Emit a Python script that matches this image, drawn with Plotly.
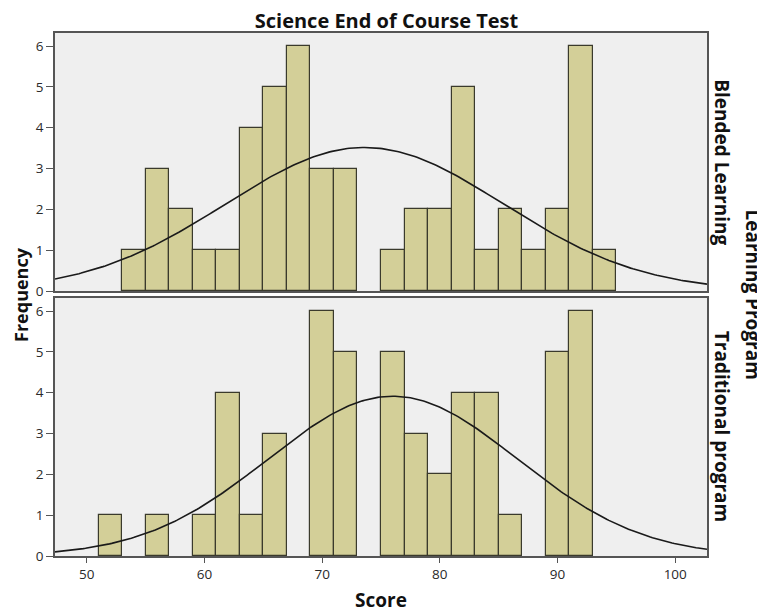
import numpy as np
import plotly.graph_objects as go
from plotly.subplots import make_subplots

# Histogram bins (width 2) and counts
bin_starts = [51, 53, 55, 57, 59, 61, 63, 65, 67, 69, 71, 73, 75, 77, 79, 81, 83, 85, 87, 89, 91, 93]
blended_counts = [0, 1, 3, 2, 1, 1, 4, 5, 6, 3, 3, 0, 1, 2, 2, 5, 1, 2, 1, 2, 6, 1]
traditional_counts = [1, 0, 1, 0, 1, 4, 1, 3, 0, 6, 5, 0, 5, 3, 2, 4, 4, 1, 0, 5, 6, 0]
bin_width = 2

# Normal curve parameters (mean, sd)
blended_fit = (73.6, 11.8)
traditional_fit = (76.0, 10.6)

panel_labels = ["Blended Learning", "Traditional program"]
x_ticks = [50, 60, 70, 80, 90, 100]
y_ticks = [0, 1, 2, 3, 4, 5, 6]

bar_fill = "#D3CF98"
bar_line = "#3A3A2C"
font_family = "Open Sans, DejaVu Sans, sans-serif"

fig = make_subplots(rows=2, cols=1, shared_xaxes=True, vertical_spacing=0.0134)

xs = np.linspace(47.3, 102.7, 300)
for row, (counts, (mu, sd)) in enumerate(
        [(blended_counts, blended_fit), (traditional_counts, traditional_fit)], start=1):
    centers = [b + bin_width / 2 for b in bin_starts]
    xb = [c for c, n in zip(centers, counts) if n > 0]
    yb = [n for n in counts if n > 0]
    fig.add_trace(go.Bar(x=xb, y=yb, width=bin_width,
                         marker=dict(color=bar_fill, line=dict(color=bar_line, width=1.2)),
                         showlegend=False, hoverinfo="x+y"), row=row, col=1)
    n_total = sum(counts)
    curve = n_total * bin_width / (sd * np.sqrt(2 * np.pi)) * np.exp(-0.5 * ((xs - mu) / sd) ** 2)
    fig.add_trace(go.Scatter(x=xs, y=curve, mode="lines",
                             line=dict(color="#1a1a1a", width=1.6),
                             showlegend=False, hoverinfo="skip"), row=row, col=1)

axis_style = dict(showline=True, linecolor="#555555", linewidth=1.5, mirror=True,
                  showgrid=False, zeroline=False, automargin=False)

for row in (1, 2):
    fig.update_xaxes(range=[47.3, 102.7], tickvals=x_ticks, ticks="outside" if row == 2 else "",
                     ticklen=5, tickcolor="#555555", showticklabels=(row == 2),
                     tickfont=dict(size=13.5, color="#2a2a2a", family=font_family),
                     row=row, col=1, **axis_style)
    fig.update_yaxes(range=[0, 6.32], tickvals=y_ticks, ticks="outside", ticklen=7,
                     tickcolor="#555555",
                     tickfont=dict(size=13.5, color="#2a2a2a", family=font_family),
                     row=row, col=1, **axis_style)

fig.update_xaxes(title=dict(text="<b>Score</b>", font=dict(size=19, color="#111111", family=font_family),
                            standoff=12), row=2, col=1)

annotations = [
    dict(text="<b>Frequency</b>", x=-0.053, y=0.5, xref="paper", yref="paper", textangle=-90,
         xanchor="center", yanchor="middle", showarrow=False,
         font=dict(size=18, color="#111111", family=font_family)),
    dict(text="<b>Learning Program</b>", x=1.072, y=0.5, xref="paper", yref="paper", textangle=90,
         xanchor="center", yanchor="middle", showarrow=False,
         font=dict(size=19, color="#111111", family=font_family)),
]
for i, label in enumerate(panel_labels):
    annotations.append(dict(text="<b>" + label + "</b>", x=1.023, y=0.753 if i == 0 else 0.247,
                            xref="paper", yref="paper", textangle=90, showarrow=False,
                            xanchor="center", yanchor="middle",
                            font=dict(size=19, color="#111111", family=font_family)))

# the page body adds an 8px offset, so the figure is drawn 8px smaller
fig.update_layout(
    width=757, height=607,
    title=dict(text="<b>Science End of Course Test</b>", x=0.5, xanchor="center",
               y=0.979, yanchor="middle",
               font=dict(size=20, color="#111111", family=font_family)),
    margin=dict(l=47, r=58, t=25, b=59),
    plot_bgcolor="#EFEFEF", paper_bgcolor="white",
    bargap=0, annotations=annotations,
)

fig.write_html("out.html")
